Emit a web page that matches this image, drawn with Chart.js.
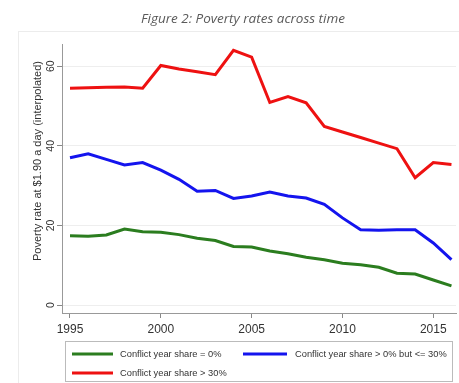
<!DOCTYPE html>
<html>
<head>
<meta charset="utf-8">
<script src="https://cdn.jsdelivr.net/npm/chart.js@4.4.1/dist/chart.umd.min.js"></script>
<style>
  body { margin: 0; background: #fff; }
  #wrap { width: 459px; height: 383px; position: relative; }
</style>
</head>
<body>
<div id="wrap"><canvas id="grafico"></canvas></div>
<script>
// anos e taxas de pobreza (% abaixo de $1.90/dia) por grupo
const anos = [1995, 1996, 1997, 1998, 1999, 2000, 2001, 2002, 2003, 2004, 2005,
              2006, 2007, 2008, 2009, 2010, 2011, 2012, 2013, 2014, 2015, 2016];
const semConflito = [17.4, 17.3, 17.6, 19.1, 18.4, 18.3, 17.7, 16.8, 16.2, 14.7, 14.6,
                     13.6, 12.9, 12.0, 11.4, 10.5, 10.1, 9.5, 8.0, 7.8, 6.3, 4.8];
const conflitoAte30 = [37.0, 38.0, 36.6, 35.2, 35.8, 33.9, 31.6, 28.6, 28.8, 26.8, 27.4,
                       28.4, 27.4, 26.9, 25.3, 21.9, 18.9, 18.8, 18.9, 18.9, 15.6, 11.4];
const conflitoAcima30 = [54.5, 54.6, 54.7, 54.8, 54.5, 60.2, 59.3, 58.6, 57.9, 64.0, 62.3,
                         50.9, 52.4, 50.8, 44.9, 43.5, 42.1, 40.7, 39.3, 32.0, 35.8, 35.3];
const rotulos = ['Conflict year share = 0%', 'Conflict year share > 0% but <= 30%', 'Conflict year share > 30%'];
const ticksX = [1995, 2000, 2005, 2010, 2015];
const ticksY = [0, 20, 40, 60];

const cores = ['#2b7d1f', '#1414ee', '#ee1111'];

function serie(valores) {
    return anos.map((a, i) => ({ x: a, y: valores[i] }));
}

// título, eixo y rotacionado, moldura e legenda em caixa
const extras = {
    id: 'extras',
    afterDraw(chart) {
        const ctx = chart.ctx;
        const y = chart.scales.y;
        ctx.save();

        // moldura externa bem clara
        ctx.strokeStyle = '#ececec';
        ctx.lineWidth = 1;
        ctx.strokeRect(18.5, 31.5, 460, 360);

        ctx.fillStyle = '#5a5a5a';
        ctx.font = 'italic 13.5px "Open Sans"';
        ctx.textAlign = 'center';
        ctx.textBaseline = 'middle';
        ctx.fillText('Figure 2: Poverty rates across time', 243, 19);

        // rótulos do eixo y na vertical
        ctx.fillStyle = '#333';
        ctx.font = '10.5px "Liberation Sans"';
        ticksY.forEach(v => {
            ctx.save();
            ctx.translate(51, y.getPixelForValue(v));
            ctx.rotate(-Math.PI / 2);
            ctx.fillText(String(v), 0, 0);
            ctx.restore();
        });

        ctx.save();
        ctx.translate(37.5, 161);
        ctx.rotate(-Math.PI / 2);
        ctx.font = '11px "Liberation Sans"';
        ctx.fillText('Poverty rate at $1.90 a day (interpolated)', 0, 0);
        ctx.restore();

        // legenda
        ctx.strokeStyle = '#bbb';
        ctx.lineWidth = 1;
        ctx.strokeRect(65.5, 341.5, 387, 40);
        const pos = [[72, 113, 120, 354], [243, 287, 295, 354], [72, 113, 120, 373]];
        ctx.textAlign = 'left';
        ctx.font = '9.3px "Liberation Sans"';
        chart.data.datasets.forEach((ds, i) => {
            const p = pos[i];
            ctx.strokeStyle = ds.borderColor;
            ctx.lineWidth = 3;
            ctx.beginPath();
            ctx.moveTo(p[0], p[3]);
            ctx.lineTo(p[1], p[3]);
            ctx.stroke();
            ctx.fillStyle = '#333';
            ctx.fillText(ds.label, p[2], p[3]);
        });
        ctx.restore();
    }
};

const data1 = {
    datasets: [semConflito, conflitoAte30, conflitoAcima30].map((v, i) => ({
        label: rotulos[i],
        data: serie(v),
        borderColor: cores[i],
        backgroundColor: cores[i],
        borderWidth: 3,
        pointRadius: 0,
        tension: 0
    }))
};

const config1 = {
    type: 'line',
    data: data1,
    options: {
        responsive: true,
        maintainAspectRatio: false,
        animation: false,
        devicePixelRatio: 1,
        layout: { padding: { left: 0, top: 44, right: 3, bottom: 42 } },
        plugins: {
            legend: { display: false },
            tooltip: { enabled: false }
        },
        scales: {
            x: {
                type: 'linear',
                min: 1994.56,
                max: 2016.25,
                afterBuildTicks: s => { s.ticks = ticksX.map(v => ({ value: v })); },
                afterFit: s => { s.height = 28; },
                ticks: {
                    color: '#333',
                    font: { family: 'Liberation Sans', size: 12 },
                    maxRotation: 0,
                    padding: 4,
                    callback: v => String(v)
                },
                grid: { drawOnChartArea: false, tickLength: 5, tickColor: '#888' },
                border: { color: '#999', width: 1 }
            },
            y: {
                min: -2,
                max: 65.6,
                afterBuildTicks: s => { s.ticks = ticksY.map(v => ({ value: v })); },
                afterFit: s => { s.width = 62; },
                ticks: { color: 'rgba(0,0,0,0)' },
                grid: { color: '#eeeeee', tickLength: 5, tickColor: '#888' },
                border: { color: '#999', width: 1 }
            }
        }
    },
    plugins: [extras]
};

var myChart = new Chart(document.getElementById('grafico'), config1);
</script>
</body>
</html>
